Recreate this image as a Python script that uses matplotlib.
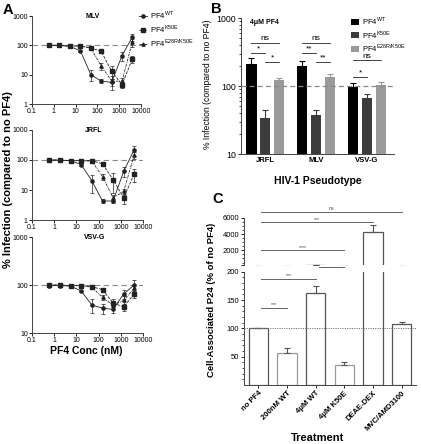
import matplotlib
matplotlib.use('Agg')
import matplotlib.pyplot as plt
import numpy as np
from matplotlib.lines import Line2D
from matplotlib.patches import Patch
from matplotlib.ticker import FixedLocator, NullFormatter, LogLocator

plt.rcParams['font.family'] = ['Liberation Sans', 'DejaVu Sans']
plt.rcParams['mathtext.fontset'] = 'custom'
plt.rcParams['mathtext.rm'] = 'Liberation Sans'
plt.rcParams['mathtext.bf'] = 'Liberation Sans:bold'
plt.rcParams['axes.linewidth'] = 0.7

# ---------------- data: panel A ----------------
conc = [0.6, 1.8, 5.5, 16.5, 50, 150, 450, 1350, 4000]

mlv_wt = [100, 100, 92, 65, 10, 6, 5.5, 45, 190]
mlv_wt_err = [8, 8, 6, 5, 4, 1, 1.5, 15, 50]
mlv_k50e = [100, 100, 95, 95, 82, 62, 13, 4.5, 35]
mlv_k50e_err = [5, 5, 5, 5, 10, 8, 6, 1, 10]
mlv_e28r = [100, 100, 95, 95, 80, 20, 6, 6, 130]
mlv_e28r_err = [5, 5, 5, 5, 8, 5, 3, 1.5, 40]

jrfl_wt = [100, 97, 95, 70, 20, 4.3, 4.3, 42, 220]
jrfl_wt_err = [10, 6, 5, 8, 12, 0.6, 0.6, 15, 80]
jrfl_k50e = [100, 100, 95, 95, 95, 75, 22, 5.5, 34]
jrfl_k50e_err = [5, 5, 5, 5, 8, 10, 14, 2, 15]
jrfl_e28r = [100, 100, 95, 95, 92, 28, 5.5, 9, 145]
jrfl_e28r_err = [5, 5, 5, 5, 8, 7, 1.5, 2, 40]

vsv_wt = [97, 97, 95, 75, 38, 33, 31, 65, 100]
vsv_wt_err = [5, 5, 5, 5, 12, 8, 5, 15, 25]
vsv_k50e = [100, 100, 97, 97, 92, 80, 42, 35, 65]
vsv_k50e_err = [5, 5, 5, 5, 6, 8, 8, 6, 12]
vsv_e28r = [100, 100, 97, 97, 90, 55, 38, 48, 85]
vsv_e28r_err = [5, 5, 5, 5, 6, 6, 6, 10, 15]

a_xticks = [0.1, 1, 10, 100, 1000, 10000]
a_xticklabels = ['0.1', '1', '10', '100', '1000', '10000']

# ---------------- data: panel B ----------------
pseudotypes = ['JRFL', 'MLV', 'VSV-G']
b_wt = [210, 200, 98]
b_wt_err = [50, 30, 14]
b_k50e = [34, 37, 67]
b_k50e_err = [11, 8, 8]
b_e28r = [122, 135, 104]
b_e28r_err = [8, 17, 11]
# (group, bar_from, bar_to, y, label)
b_sig = [(0, 0, 2, 435, 'ns'), (0, 0, 1, 310, '*'), (0, 1, 2, 223, '*'),
         (1, 0, 2, 435, 'ns'), (1, 0, 1, 310, '**'), (1, 1, 2, 223, '**'),
         (2, 0, 2, 238, 'ns'), (2, 0, 1, 135, '*')]

# ---------------- data: panel C ----------------
treatments = ['no PF4', '200nM WT', '4μM WT', '4μM K50E', 'DEAE-DEX', 'MVC/AMD3100']
c_vals = [100, 56, 162, 35, 4200, 107]
c_err = [0, 9, 13, 6, 850, 4]
c_sig = [(0, 5, 6700, 'ns'), (0, 4, 5450, '***'), (0, 3, 2000, '****'),
         (2, 3, 208, '****'), (0, 2, 187, '***'), (0, 1, 136, '***')]

labels_leg = [r'PF4$^{\mathregular{WT}}$', r'PF4$^{\mathregular{K50E}}$',
              r'PF4$^{\mathregular{E28R/K50E}}$']

W, H = 421, 444
fig = plt.figure(figsize=(W / 100, H / 100), dpi=100)


def rect(l, t, r, b):
    return [l / W, 1 - b / H, (r - l) / W, (b - t) / H]


# ---------------- Panel A ----------------
styles = [('-', 'o'), ((0, (3.5, 1.5)), 's'), ((0, (3, 1.2, 1, 1.2)), '^')]
panelA = [
    ('MLV', [(mlv_wt, mlv_wt_err), (mlv_k50e, mlv_k50e_err), (mlv_e28r, mlv_e28r_err)],
     1, [1, 10, 100, 1000], rect(32, 16, 141, 104)),
    ('JRFL', [(jrfl_wt, jrfl_wt_err), (jrfl_k50e, jrfl_k50e_err), (jrfl_e28r, jrfl_e28r_err)],
     1, [1, 10, 100, 1000], rect(32, 130, 143, 220)),
    ('VSV-G', [(vsv_wt, vsv_wt_err), (vsv_k50e, vsv_k50e_err), (vsv_e28r, vsv_e28r_err)],
     10, [10, 100, 1000], rect(32, 237, 143, 333)),
]
for title, series, ylo, yt, pos in panelA:
    ax = fig.add_axes(pos)
    ax.set_xscale('log')
    ax.set_yscale('log')
    ax.axhline(100, color='#8a8a8a', lw=0.8, ls=(0, (5, 3)), zorder=1)
    for (vals, errs), (ls, mk) in zip(series, styles):
        ax.errorbar(conc, vals, yerr=errs, color='#222222', lw=0.6, ls=ls,
                    marker=mk, ms=2.3, capsize=1.3, elinewidth=0.5, capthick=0.5,
                    zorder=3)
    ax.set_xlim(0.1, 10000)
    ax.set_ylim(ylo, 1000)
    ax.xaxis.set_major_locator(FixedLocator(a_xticks))
    ax.set_xticklabels(a_xticklabels)
    ax.xaxis.set_minor_locator(FixedLocator([]))
    ax.yaxis.set_major_locator(FixedLocator(yt))
    ax.set_yticklabels([str(v) for v in yt])
    ax.yaxis.set_minor_locator(FixedLocator([]))
    ax.tick_params(labelsize=5, length=2, width=0.6, pad=1)
    for s in ['top', 'right']:
        ax.spines[s].set_visible(False)
    for s in ['left', 'bottom']:
        ax.spines[s].set_color('#444444')
    ax.text(0.56, 1.0, title, transform=ax.transAxes, ha='center', va='center',
            fontsize=5, fontweight='bold')

handles = [Line2D([], [], color='#222222', lw=0.6, ls=ls, marker=mk, ms=2.3)
           for ls, mk in styles]
fig.legend(handles, labels_leg, loc='upper left', bbox_to_anchor=(139 / W, 1 - 9 / H),
           frameon=False, fontsize=5.5, handlelength=1.1, handletextpad=0.4,
           labelspacing=0.25, borderpad=0, borderaxespad=0)

fig.text(8 / W, 1 - 180 / H, '% Infection (compared to no PF4)', rotation=90,
         ha='center', va='center', fontsize=8, fontweight='bold')
fig.text(86 / W, 1 - 351 / H, 'PF4 Conc (nM)', ha='center', va='center',
         fontsize=7.5, fontweight='bold')

# ---------------- Panel B ----------------
axB = fig.add_axes(rect(241, 18, 394, 154))
axB.set_yscale('log')
xb = np.arange(len(pseudotypes))
offs = [-0.27, 0.0, 0.27]
cols = ['#000000', '#3c3c3c', '#9a9a9a']
bser = [(b_wt, b_wt_err), (b_k50e, b_k50e_err), (b_e28r, b_e28r_err)]
for (vals, errs), off, col in zip(bser, offs, cols):
    axB.bar(xb + off, vals, width=0.2, color=col, zorder=2)
    axB.errorbar(xb + off, vals, yerr=[np.zeros(len(vals)), errs], fmt='none',
                 ecolor=col, capsize=2, elinewidth=0.8, capthick=0.8, zorder=2)
axB.axhline(100, color='#8a8a8a', lw=0.9, ls=(0, (4, 2.5)), zorder=3)
for g, i1, i2, yv, lab in b_sig:
    xs = [xb[g] + offs[i1], xb[g] + offs[i2]]
    axB.plot(xs, [yv, yv], color='#222222', lw=0.6)
    axB.text(np.mean(xs), yv * 1.02, lab, ha='center', va='bottom', fontsize=6)
axB.set_xlim(-0.475, 2.53)
axB.set_ylim(10, 1000)
axB.set_xticks(xb)
axB.set_xticklabels(pseudotypes, fontsize=5.5, fontweight='bold')
axB.yaxis.set_major_locator(FixedLocator([10, 100, 1000]))
axB.set_yticklabels(['10', '100', '1000'])
axB.yaxis.set_minor_locator(LogLocator(subs=np.arange(2, 10)))
axB.yaxis.set_minor_formatter(NullFormatter())
axB.tick_params(axis='y', labelsize=6.3, length=2.5, width=0.6, pad=1)
axB.tick_params(axis='y', which='minor', length=1.5, width=0.5)
axB.tick_params(axis='x', length=0, pad=2)
for s in ['top', 'right']:
    axB.spines[s].set_visible(False)
for s in ['left', 'bottom']:
    axB.spines[s].set_color('#444444')
axB.text(0.15, 0.965, '4μM PF4', transform=axB.transAxes, ha='center', va='center',
         fontsize=5, fontweight='bold')
bh = [Patch(facecolor=c, edgecolor='none') for c in cols]
fig.legend(bh, labels_leg, loc='upper left', bbox_to_anchor=(351 / W, 1 - 15 / H),
           frameon=False, fontsize=5.5, handlelength=1.0, handleheight=0.8,
           handletextpad=0.5, labelspacing=0.2, borderpad=0, borderaxespad=0)
fig.text(207 / W, 1 - 84 / H, '% Infection (compared to no PF4)', rotation=90,
         ha='center', va='center', fontsize=6.2)
fig.text(318 / W, 1 - 181 / H, 'HIV-1 Pseudotype', ha='center', va='center',
         fontsize=7.5, fontweight='bold')

# ---------------- Panel C ----------------
axCl = fig.add_axes(rect(244, 271.7, 416, 385))
axCu = fig.add_axes(rect(244, 217.7, 416, 265))
xc = np.arange(len(treatments))
edgec = ['#555555', '#9a9a9a', '#555555', '#9a9a9a', '#555555', '#555555']
for ax in (axCl, axCu):
    ax.bar(xc, c_vals, width=0.68, color='white', edgecolor=edgec, lw=0.9, zorder=2)
    ax.errorbar(xc, c_vals, yerr=[np.zeros(len(c_vals)), c_err], fmt='none',
                ecolor='#555555', capsize=2.5, elinewidth=0.8, capthick=0.8, zorder=2)
    ax.set_xlim(-0.5, 5.5)
    for s in ['top', 'right']:
        ax.spines[s].set_visible(False)
    ax.spines['left'].set_color('#444444')
axCl.axhline(100, color='#777777', lw=0.7, ls=(0, (1.2, 1.2)), zorder=3)
axCl.set_ylim(0, 200)
axCu.set_ylim(200, 6000)
axCu.spines['bottom'].set_visible(False)
axCu.set_xticks([])
axCl.spines['bottom'].set_color('#444444')
axCl.yaxis.set_major_locator(FixedLocator([50, 100, 150, 200]))
axCl.yaxis.set_minor_locator(FixedLocator(list(range(10, 200, 10))))
axCu.yaxis.set_major_locator(FixedLocator([200, 2000, 4000, 6000]))
axCu.set_yticklabels(['', '2000', '4000', '6000'])
axCu.yaxis.set_minor_locator(FixedLocator(list(range(500, 6000, 500))))
for ax in (axCl, axCu):
    ax.tick_params(axis='y', labelsize=5.5, length=2.5, width=0.6, pad=1)
    ax.tick_params(axis='y', which='minor', length=1.3, width=0.5)
axCl.set_xticks(xc)
axCl.set_xticklabels(treatments, rotation=45, ha='right', rotation_mode='anchor',
                     fontsize=5.5, fontweight='bold')
axCl.tick_params(axis='x', length=2, width=0.6, pad=1.5)
for i1, i2, yv, lab in c_sig:
    ax = axCu if yv >= 1000 else axCl
    ax.plot([xc[i1] + 0.1, xc[i2]], [yv, yv], color='#666666', lw=0.7, clip_on=False)
    dy = 80 if ax is axCu else 2
    ax.text((xc[i1] + 0.1 + xc[i2]) / 2, yv + dy, lab, ha='center', va='bottom',
            fontsize=3.8, color='#444444', clip_on=False)
fig.text(211 / W, 1 - 300 / H, 'Cell-Associated P24 (% of no PF4)', rotation=90,
         ha='center', va='center', fontsize=6.8, fontweight='bold')
fig.text(318 / W, 1 - 438 / H, 'Treatment', ha='center', va='center',
         fontsize=8, fontweight='bold')

# panel letters
fig.text(3 / W, 1 - 3 / H, 'A', ha='left', va='top', fontsize=10.5, fontweight='bold')
fig.text(211 / W, 1 - 2 / H, 'B', ha='left', va='top', fontsize=10.5, fontweight='bold')
fig.text(212 / W, 1 - 192 / H, 'C', ha='left', va='top', fontsize=10.5, fontweight='bold')

fig.savefig('out.png', dpi=100)
